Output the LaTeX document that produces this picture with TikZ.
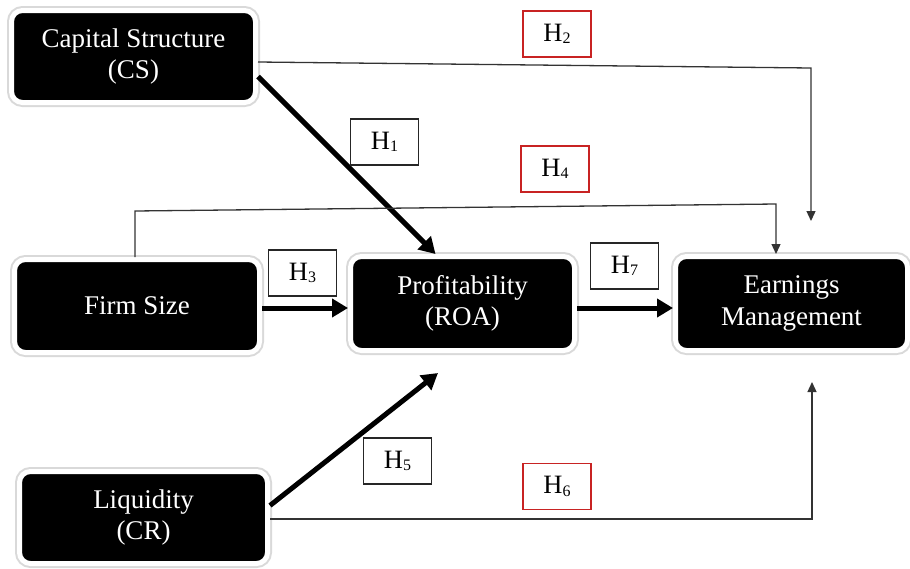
\documentclass[tikz,border=0pt]{standalone}
\usepackage{fontspec}
\setmainfont{Liberation Serif}
\usetikzlibrary{arrows.meta,calc}
\definecolor{hred}{RGB}{200,35,35}
\newcommand{\hyp}[1]{H\raisebox{-2.5pt}{\fontsize{16}{16}\selectfont #1}}
\begin{document}
\begin{tikzpicture}[x=1pt,y=-1pt,
 varbox/.style={fill=black, draw=white, line width=5pt, rounded corners=11pt, text=white, align=center, inner sep=0pt,
   font=\fontsize{27}{31.5}\selectfont, preaction={draw=black!15, line width=9pt}},
 hbox/.style={draw=black!85, fill=white, line width=1.2pt, minimum width=68pt, minimum height=46pt, inner sep=0pt,
   font=\fontsize{26.5}{28}\selectfont},
 hredbox/.style={hbox, draw=hred},
 conn/.style={draw=black!80, line width=1.3pt},
 thinarrow/.style={conn, -{Triangle[length=10pt,width=9pt]}},
 thickarrow/.style={line width=5pt, -{Triangle[length=16pt,width=18pt]}},
]
\useasboundingbox (0,0) rectangle (910,568);

% variables
\node[varbox, minimum width=244pt, minimum height=92pt] (CS) at (133.5,56.5) {Capital Structure\\(CS)};
\node[varbox, minimum width=245pt, minimum height=93pt] (FS) at (137,306) {Firm Size};
\node[varbox, minimum width=224pt, minimum height=94pt] (P) at (462.5,303.5) {Profitability\\(ROA)};
\node[varbox, minimum width=232pt, minimum height=94pt] (EM) at (791.5,303.5) {Earnings\\Management};
\node[varbox, minimum width=248pt, minimum height=92pt] (L) at (143.5,517.5) {Liquidity\\(CR)};

% free corner points
\coordinate (h2a) at (811,68);
\coordinate (h2b) at (811,221);
\coordinate (h4a) at (135,211);
\coordinate (h4b) at (776,204);
\coordinate (h5e) at (438,373);
\coordinate (h6a) at (812,519);
\coordinate (h6b) at (812,382);
\coordinate (h3s) at ([yshift=-2pt]FS.east);
\coordinate (h7s) at ([yshift=-4.5pt]P.east);

% connectors
\draw[thickarrow] ([yshift=-20pt]CS.east) -- ([xshift=-27pt]P.north);
\draw[thinarrow] ([yshift=-5.5pt]CS.east) -- (h2a) -- (h2b);
\draw[thinarrow] (FS.north -| h4a) -- (h4a) -- (h4b) -- (EM.north -| h4b);
\draw[thickarrow] (h3s) -- (h3s -| P.west);
\draw[thickarrow] (h7s) -- (h7s -| EM.west);
\draw[thickarrow] ([yshift=12pt]L.east) -- (h5e);
\draw[thinarrow] ([yshift=-1.5pt]L.east) -- (h6a) -- (h6b);

% hypothesis labels
\node[hredbox] (H2) at (557,34) {\hyp{2}};
\node[hbox] (H1) at (384.5,142) {\hyp{1}};
\node[hredbox] (H4) at (555,169) {\hyp{4}};
\node[hbox] (H3) at (302.5,273) {\hyp{3}};
\node[hbox] (H7) at (624.5,266) {\hyp{7}};
\node[hbox] (H5) at (397.5,461) {\hyp{5}};
\node[hredbox] (H6) at (557,486.5) {\hyp{6}};
\end{tikzpicture}
\end{document}
